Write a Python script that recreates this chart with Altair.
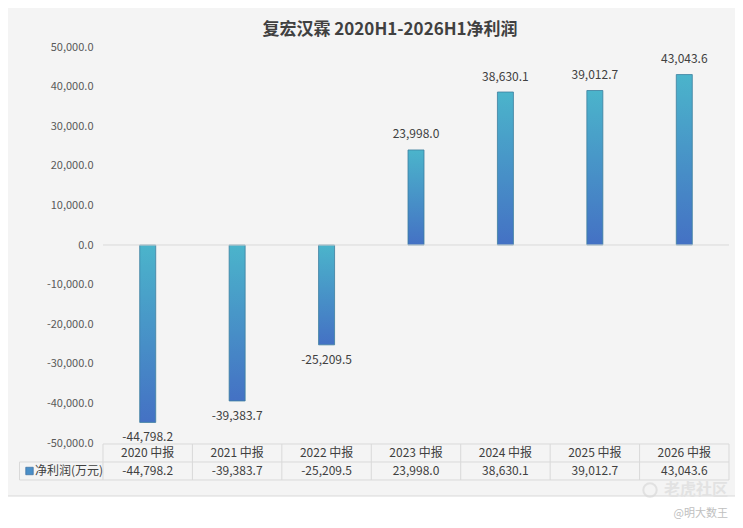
import altair as alt
import pandas as pd

categories = ["2020 中报", "2021 中报", "2022 中报", "2023 中报", "2024 中报", "2025 中报", "2026 中报"]
net_profit = [-44798.2, -39383.7, -25209.5, 23998.0, 38630.1, 39012.7, 43043.6]
y_ticks = [-50000, -40000, -30000, -20000, -10000, 0, 10000, 20000, 30000, 40000, 50000]
title_text = "复宏汉霖 2020H1-2026H1净利润"
series_name = "净利润(万元)"

labels = [f"{v:,.1f}" for v in net_profit]
df = pd.DataFrame({"cat": categories, "val": net_profit, "label": labels})
df["pos"] = df["val"] >= 0

FONT = "Noto Sans CJK SC"
TXT = "#404040"
LINE = "#d9d9d9"
W, H = 626, 396
PL, PT, PR, PB = 95, 39, 6, 77

yscale = alt.Scale(domain=[-50000, 50000], nice=False, zero=True)
yaxis = alt.Axis(values=y_ticks, grid=False, domain=False, ticks=False,
                 labelOverlap=False, labelBound=False, labelFlush=False,
                 labelPadding=10, labelFontSize=11, labelColor="#595959",
                 labelFont=FONT, title=None,
                 labelExpr="replace(format(datum.value, ',.1f'), '\u2212', '-')")
xenc = alt.X("cat:N", sort=categories, axis=None,
             scale=alt.Scale(paddingInner=0, paddingOuter=0))
yenc = alt.Y("val:Q", scale=yscale, axis=yaxis)
base = alt.Chart(df)
one = alt.Chart(pd.DataFrame({"a": [0]}))

# white footer area
footer = one.mark_rect(color="white").encode(
    x=alt.value(-PL), x2=alt.value(W + PR), y=alt.value(449), y2=alt.value(H + PB))
footer_line = one.mark_rule(color=LINE, strokeWidth=1).encode(
    x=alt.value(-PL), x2=alt.value(W + PR), y=alt.value(449))

grad = alt.Gradient(
    gradient="linear",
    stops=[alt.GradientStop(color="#4bb4cb", offset=0),
           alt.GradientStop(color="#4471c4", offset=1)],
    x1=0, x2=0, y1=0, y2=1)

bars = base.mark_bar(color=grad, size=16, stroke="#3c7f9e", strokeWidth=0.8).encode(
    x=xenc, y=yenc)

zero = one.mark_rule(color=LINE, strokeWidth=1).encode(
    x=alt.value(0), x2=alt.value(W),
    y=alt.Y(datum=0, type="quantitative", scale=yscale, axis=yaxis))

lab_pos = base.transform_filter("datum.pos").mark_text(
    dy=-15.5, baseline="middle", fontSize=12, font=FONT, color=TXT).encode(
    x=xenc, y=yenc, text="label:N")
lab_neg = base.transform_filter("!datum.pos").mark_text(
    dy=15, baseline="middle", fontSize=12, font=FONT, color=TXT).encode(
    x=xenc, y=yenc, text="label:N")

# data table
vlines = base.mark_rule(color=LINE, strokeWidth=1).encode(
    x=alt.X("cat:N", sort=categories, axis=None, bandPosition=0,
            scale=alt.Scale(paddingInner=0, paddingOuter=0)),
    y=alt.value(397), y2=alt.value(433))
vright = one.mark_rule(color=LINE, strokeWidth=1).encode(
    x=alt.value(W), y=alt.value(397), y2=alt.value(433))
vleft = one.mark_rule(color=LINE, strokeWidth=1).encode(
    x=alt.value(-83.5), y=alt.value(415), y2=alt.value(433))
h1 = one.mark_rule(color=LINE, strokeWidth=1).encode(
    x=alt.value(0), x2=alt.value(W), y=alt.value(397))
h2 = one.mark_rule(color=LINE, strokeWidth=1).encode(
    x=alt.value(-83.5), x2=alt.value(W), y=alt.value(415))
h3 = one.mark_rule(color=LINE, strokeWidth=1).encode(
    x=alt.value(-83.5), x2=alt.value(W), y=alt.value(433))

head_txt = base.mark_text(fontSize=12, font=FONT, color=TXT, baseline="middle").encode(
    x=xenc, y=alt.value(406), text="cat:N")
val_txt = base.mark_text(fontSize=12, font=FONT, color=TXT, baseline="middle").encode(
    x=xenc, y=alt.value(424), text="label:N")

legend_sq = one.mark_square(size=56, color="#4a8fc8", stroke="#3c6fa0", strokeWidth=0.7,
                            opacity=1).encode(x=alt.value(-73.5), y=alt.value(424))
legend_txt = one.mark_text(fontSize=12, font=FONT, color=TXT, align="left",
                           baseline="middle").encode(
    x=alt.value(-68), y=alt.value(424), text=alt.value(series_name))

title = one.mark_text(fontSize=17, font=FONT, fontWeight="bold", color=TXT,
                      baseline="middle").encode(
    x=alt.value(287), y=alt.value(-17), text=alt.value(title_text))

wm_logo = one.mark_point(shape="circle", size=180, filled=False, color="#dadada",
                         strokeWidth=2).encode(x=alt.value(547), y=alt.value(443))
wm1 = one.mark_text(fontSize=16, font=FONT, fontWeight="bold", color="#e2e2e2",
                    align="right", baseline="middle").encode(
    x=alt.value(625), y=alt.value(443), text=alt.value("老虎社区"))
wm2 = one.mark_text(fontSize=11, font=FONT, color="#c0c0c0", align="right",
                    baseline="middle").encode(
    x=alt.value(625), y=alt.value(467), text=alt.value("@明大数王"))

chart = alt.layer(
    footer, footer_line, bars, zero, lab_pos, lab_neg,
    vlines, vright, vleft, h1, h2, h3, head_txt, val_txt,
    legend_sq, legend_txt, title, wm_logo, wm1, wm2
).properties(
    width=W, height=H,
    autosize=alt.AutoSizeParams(type="none"),
    padding={"left": PL, "top": PT, "right": PR, "bottom": PB},
    background="#f4f4f4",
).configure_view(stroke=None).configure_axisY(labelOverlap=False)

chart.save("out.html", embed_options={"renderer": "svg", "actions": False})
